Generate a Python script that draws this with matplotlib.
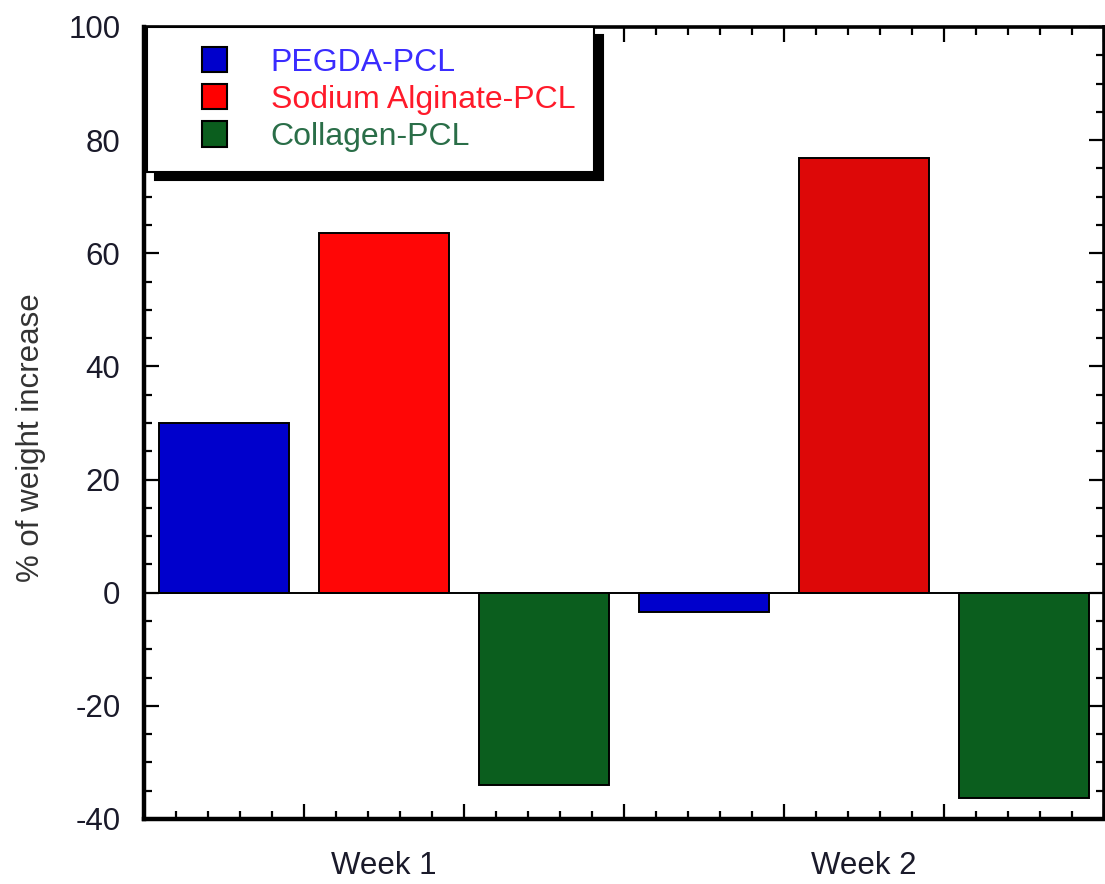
import numpy as np
import matplotlib
matplotlib.use("Agg")
from matplotlib import pyplot as plt
from matplotlib.patches import Patch, Rectangle
from matplotlib.legend_handler import HandlerPatch
from matplotlib.ticker import MultipleLocator, FixedLocator

plt.rcParams['font.family'] = ['Liberation Sans', 'DejaVu Sans']
plt.rcParams['axes.unicode_minus'] = False

# data
weeks = ["Week 1", "Week 2"]
groups = ["PEGDA-PCL", "Sodium Alginate-PCL", "Collagen-PCL"]
week1 = [30.0, 63.5, -34.0]
week2 = [-3.4, 76.8, -36.3]

bar_colors = {
    "Week 1": ["#0000cc", "#ff0606", "#0b5e1e"],
    "Week 2": ["#0000cc", "#dd0808", "#0b5e1e"],
}
legend_face = ["#0000cc", "#ff0000", "#0b5e1e"]
legend_text = ["#3a2cff", "#ff1a2a", "#2a6e48"]

FS = 22.5


def square_patch(legend, orig_handle, xdescent, ydescent, width, height, fontsize):
    # square handle pushed to the right side of the handle box
    side = height
    return Rectangle((-xdescent + width - side, -ydescent), side, side)


fig = plt.figure(figsize=(11.05, 8.84), dpi=100)
ax = fig.add_axes([144 / 1105, 65 / 884, 960 / 1105, 792 / 884])

values = [week1, week2]
pos = 0
for w, vals in zip(weeks, values):
    for i, v in enumerate(vals):
        ax.bar(pos, v, width=0.81, color=bar_colors[w][i], edgecolor="black",
               linewidth=1.4, zorder=2)
        pos += 1

ax.axhline(0, color="black", linewidth=1.4, zorder=3)

ax.set_xlim(-0.5, 5.5)
ax.set_ylim(-40, 100)

ax.yaxis.set_major_locator(MultipleLocator(20))
ax.yaxis.set_minor_locator(MultipleLocator(5))
ax.xaxis.set_major_locator(FixedLocator(np.arange(-0.5, 5.6, 1.0)))
ax.xaxis.set_minor_locator(MultipleLocator(0.2, offset=0.1))
ax.xaxis.set_minor_formatter(plt.NullFormatter())
ax.set_xticklabels([])

# week labels centred under the middle bar of each group
for k, w in enumerate(weeks):
    ax.text(k * 3 + 1, -0.04, w, transform=ax.get_xaxis_transform(),
            ha="center", va="top", fontsize=FS, color="#1a1a2a")

ax.tick_params(which="both", direction="in", top=True, right=True, width=1.6,
               colors="black")
ax.tick_params(which="major", length=11)
ax.tick_params(which="minor", length=6)
ax.tick_params(axis="y", labelsize=FS, labelcolor="#1a1a2a", pad=17)

for s in ["left", "bottom"]:
    ax.spines[s].set_linewidth(3.2)
for s in ["top", "right"]:
    ax.spines[s].set_linewidth(2.6)

ax.set_ylabel("% of weight increase", fontsize=FS, color="#333333")
ax.yaxis.set_label_coords(-0.102, 0.482)

handles = [Patch(facecolor=c, edgecolor="black", linewidth=1.5) for c in legend_face]
leg = ax.legend(handles, groups, loc="upper left",
                bbox_to_anchor=(0.003, 0.0, 0.466, 1.0), mode="expand",
                borderaxespad=0, fontsize=23, labelcolor=legend_text,
                frameon=True, fancybox=False, edgecolor="black",
                shadow={"ox": 6, "oy": -6, "shade": 1.0, "alpha": 1.0},
                handlelength=1.9, handleheight=0.85, handletextpad=1.35,
                labelspacing=0.2, borderpad=0.62,
                handler_map={Patch: HandlerPatch(patch_func=square_patch)})
leg.get_frame().set_linewidth(1.5)
leg.set_zorder(5)

fig.savefig("out.png", dpi=100)
